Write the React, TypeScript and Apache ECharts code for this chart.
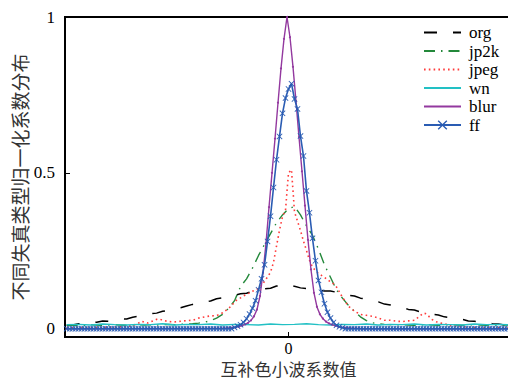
import React, { useEffect, useRef } from "react";
import * as echarts from "echarts";

// x positions are bin indices (one bin = one sample step), 0 = centre
const legendNames = ["org", "jp2k", "jpeg", "wn", "blur", "ff"];
const xTickValues = [0];
const yTickValues = [0, 0.5, 1];

// org: every 2nd bin from -74 to 74
const orgX = [-74,-72,-70,-68,-66,-64,-62,-60,-58,-56,-54,-52,-50,-48,-46,-44,-42,-40,-38,-36,-34,-32,-30,-28,-26,-24,-22,-20,-18,-16,-14,-12,-10,-8,-6,-4,-2,0,2,4,6,8,10,12,14,16,18,20,22,24,26,28,30,32,34,36,38,40,42,44,46,48,50,52,54,56,58,60,62,64,66,68,70,72,74];
const orgY = [0.010,0.012,0.016,0.015,0.019,0.021,0.025,0.024,0.029,0.032,0.031,0.037,0.040,0.042,0.048,0.050,0.056,0.059,0.065,0.067,0.073,0.078,0.081,0.087,0.089,0.096,0.099,0.105,0.107,0.112,0.114,0.120,0.122,0.128,0.130,0.137,0.138,0.142,0.136,0.131,0.129,0.125,0.125,0.121,0.121,0.117,0.114,0.107,0.105,0.098,0.096,0.089,0.086,0.079,0.076,0.070,0.068,0.062,0.060,0.054,0.052,0.046,0.044,0.038,0.036,0.031,0.030,0.025,0.024,0.020,0.019,0.016,0.015,0.012,0.011];

// jp2k: every 2nd bin
const jp2kX = orgX;
const jp2kY = [0.011,0.012,0.010,0.011,0.013,0.012,0.011,0.012,0.013,0.012,0.011,0.012,0.013,0.012,0.013,0.012,0.013,0.014,0.013,0.014,0.015,0.016,0.018,0.021,0.026,0.034,0.046,0.065,0.090,0.135,0.160,0.195,0.235,0.270,0.305,0.340,0.365,0.385,0.392,0.365,0.330,0.300,0.255,0.205,0.165,0.125,0.098,0.075,0.056,0.038,0.026,0.019,0.016,0.014,0.013,0.012,0.013,0.012,0.011,0.012,0.013,0.012,0.011,0.012,0.013,0.012,0.011,0.012,0.013,0.012,0.011,0.012,0.011,0.012,0.011];

// jpeg
const jpegX = [-74,-72,-70,-68,-66,-64,-62,-60,-58,-56,-54,-52,-50,-49,-48,-47,-46,-45,-44,-43,-42,-40,-38,-36,-34,-32,-30,-28,-26,-24,-23,-22,-21,-20,-19,-18,-17,-16,-15,-14,-13,-12,-11,-10,-9,-8,-7,-6,-5,-4,-3,-2,-1,0,1,2,3,4,5,6,7,8,9,10,11,12,13,14,15,16,17,18,19,20,21,22,23,24,26,28,30,32,34,36,38,40,42,44,45,46,47,48,50,52,54,56,58,60,62,64,66,68,70,72,74];
const jpegY = [0.003,0.003,0.004,0.003,0.004,0.004,0.004,0.005,0.005,0.006,0.007,0.010,0.018,0.024,0.021,0.018,0.022,0.026,0.030,0.031,0.027,0.023,0.022,0.024,0.026,0.027,0.034,0.038,0.041,0.042,0.046,0.051,0.058,0.065,0.074,0.086,0.094,0.099,0.105,0.110,0.115,0.120,0.125,0.129,0.139,0.152,0.166,0.181,0.213,0.265,0.316,0.360,0.380,0.500,0.510,0.375,0.345,0.315,0.281,0.251,0.220,0.198,0.186,0.177,0.171,0.165,0.157,0.151,0.144,0.134,0.118,0.100,0.087,0.072,0.064,0.056,0.051,0.046,0.043,0.040,0.034,0.027,0.027,0.024,0.023,0.025,0.027,0.042,0.050,0.048,0.038,0.029,0.019,0.016,0.010,0.008,0.006,0.005,0.004,0.004,0.003,0.004,0.003,0.003,0.003];

// wn: every 4th bin
const wnX = [-74,-70,-66,-62,-58,-54,-50,-46,-42,-38,-34,-30,-26,-22,-18,-14,-10,-6,-2,2,6,10,14,18,22,26,30,34,38,42,46,50,54,58,62,66,70,74];
const wnY = [0.013,0.014,0.012,0.015,0.013,0.012,0.014,0.013,0.016,0.012,0.014,0.013,0.015,0.012,0.014,0.013,0.012,0.015,0.013,0.014,0.016,0.013,0.012,0.014,0.013,0.015,0.012,0.014,0.013,0.015,0.012,0.014,0.013,0.012,0.015,0.013,0.014,0.013];

// blur: sampled on half-bins around its peak
const blurX = [-74,-24.5,-23.5,-22.5,-21.5,-20.5,-19.5,-18.5,-17.5,-16.5,-15.5,-14.5,-13.5,-12.5,-11.5,-10.5,-9.5,-8.5,-7.5,-6.5,-5.5,-4.5,-3.5,-2.5,-1.5,-0.5,0.5,1.5,2.5,3.5,4.5,5.5,6.5,7.5,8.5,9.5,10.5,11.5,12.5,13.5,14.5,15.5,16.5,17.5,18.5,19.5,20.5,21.5,22.5,23.5,24.5,25.5,74];
const blurY = [0,0.001,0.001,0.001,0.002,0.002,0.003,0.004,0.005,0.007,0.010,0.014,0.019,0.027,0.040,0.062,0.105,0.180,0.275,0.390,0.500,0.610,0.725,0.835,0.930,1.000,0.935,0.840,0.730,0.615,0.505,0.395,0.285,0.190,0.115,0.070,0.046,0.032,0.023,0.017,0.013,0.010,0.007,0.005,0.004,0.003,0.002,0.002,0.001,0.001,0,0,0];

// ff: every bin from -74 to 74
const ffY = [
  0,0,0,0,0,0,0,0,0,0,0,0,0,0,0,0,0,0,0,0,0,0,0,0,0,0,0,0,
  0,0,0,0,0,0,0,0,0,0,0,0,0,0,0,0,0,0,0,0,0,0,0,0,0,0,0,0,
  0.004,0.008,0.013,0.020,0.032,0.047,0.066,0.090,0.125,0.160,0.205,0.280,0.361,0.453,0.542,0.617,0.691,0.740,
  0.769,
  0.786,0.737,0.705,0.618,0.554,0.442,0.372,0.290,0.218,0.155,0.117,0.080,0.053,0.034,0.020,0.011,0.006,0.003,
  0,0,0,0,0,0,0,0,0,0,0,0,0,0,0,0,0,0,0,0,0,0,0,0,0,0,0,0,
  0,0,0,0,0,0,0,0,0,0,0,0,0,0,0,0,0,0,0,0,0,0,0,0,0,0,0,0
];
const ffFirstBin = -74;

const pairs = (xs: number[], ys: number[]) => ys.map((y, i) => [xs[i], y]);

const XMARK = "path://M0,1L1,0L5,4L9,0L10,1L6,5L10,9L9,10L5,6L1,10L0,9L4,5Z";

export default function App() {
  const ref = useRef<HTMLDivElement>(null);
  useEffect(() => {
    if (!ref.current) return;
    const chart = echarts.init(ref.current, null, { renderer: "svg" });
    const serif = "'Liberation Serif', 'Times New Roman', serif";
    const cjk = "'Noto Sans CJK SC', sans-serif";
    const hideSym = { opacity: 0 };
    chart.setOption({
      animation: false,
      backgroundColor: "#fff",
      grid: {
        left: 65,
        top: 17,
        width: 447,
        height: 320,
        show: true,
        borderColor: "#000",
        borderWidth: 2,
        containLabel: false,
        outerBoundsMode: "none",
      },
      legend: {
        orient: "vertical",
        left: 423,
        top: 24,
        padding: 0,
        itemWidth: 37,
        itemHeight: 12,
        itemGap: 1.5,
        data: legendNames.map((n) => (n === "ff" ? { name: n } : { name: n, itemStyle: hideSym })),
        textStyle: { fontFamily: serif, fontSize: 17, color: "#000", lineHeight: 17, padding: [0, 0, 0, 3] },
      },
      xAxis: {
        type: "value",
        min: -74.57,
        max: 74.57,
        name: "互补色小波系数值",
        nameLocation: "middle",
        nameGap: 23,
        nameMoveOverlap: false,
        nameTextStyle: { fontFamily: cjk, fontSize: 17, color: "#333", lineHeight: 17 },
        axisLine: { show: true, onZero: false, lineStyle: { color: "#000", width: 2 } },
        axisTick: { show: true, inside: true, length: 5, customValues: xTickValues, lineStyle: { color: "#000", width: 1 } },
        axisLabel: { customValues: xTickValues, fontFamily: serif, fontSize: 16, lineHeight: 16, color: "#000", margin: 3 },
        splitLine: { show: false },
      },
      yAxis: {
        type: "value",
        min: -0.0266,
        max: 1,
        name: "不同失真类型归一化系数分布",
        nameLocation: "middle",
        nameGap: 36,
        nameMoveOverlap: false,
        nameTextStyle: { fontFamily: cjk, fontSize: 19, color: "#333" },
        axisLine: { show: true, onZero: false, lineStyle: { color: "#000", width: 2 } },
        axisTick: { show: true, inside: true, length: 5, customValues: yTickValues, lineStyle: { color: "#000", width: 1 } },
        axisLabel: {
          customValues: yTickValues,
          fontFamily: serif,
          fontSize: 17,
          color: "#000",
          margin: 10,
          formatter: (v: number) => String(v),
        },
        splitLine: { show: false },
      },
      series: [
        {
          name: "org",
          type: "line",
          data: pairs(orgX, orgY),
          symbol: "none",
          lineStyle: { color: "#000", width: 1.5, type: [13, 16] },
          itemStyle: { color: "#000" },
          z: 2,
        },
        {
          name: "jp2k",
          type: "line",
          data: pairs(jp2kX, jp2kY),
          symbol: "none",
          lineStyle: { color: "#23883a", width: 1.4, type: [11, 6, 1.5, 6] },
          itemStyle: { color: "#23883a" },
          z: 3,
        },
        {
          name: "jpeg",
          type: "line",
          data: pairs(jpegX, jpegY),
          symbol: "none",
          lineStyle: { color: "#ff3b3b", width: 1.6, type: [1.6, 3.2] },
          itemStyle: { color: "#ff3b3b" },
          z: 4,
        },
        {
          name: "wn",
          type: "line",
          data: pairs(wnX, wnY),
          symbol: "none",
          lineStyle: { color: "#22c0c4", width: 1.4 },
          itemStyle: { color: "#22c0c4" },
          z: 5,
        },
        {
          name: "blur",
          type: "line",
          data: pairs(blurX, blurY),
          symbol: "circle",
          symbolSize: 2,
          lineStyle: { color: "#93399f", width: 1.4 },
          itemStyle: { color: "#93399f" },
          z: 6,
        },
        {
          name: "ff",
          type: "line",
          data: ffY.map((y, i) => [ffFirstBin + i, y]),
          symbol: XMARK,
          symbolSize: 6,
          showAllSymbol: true,
          lineStyle: { color: "#2a5cb3", width: 1.6 },
          itemStyle: { color: "#2a5cb3" },
          z: 7,
        },
      ],
    });
    return () => chart.dispose();
  }, []);
  return <div ref={ref} style={{ width: 508, height: 380, position: "absolute", left: 0, top: 0 }} />;
}
